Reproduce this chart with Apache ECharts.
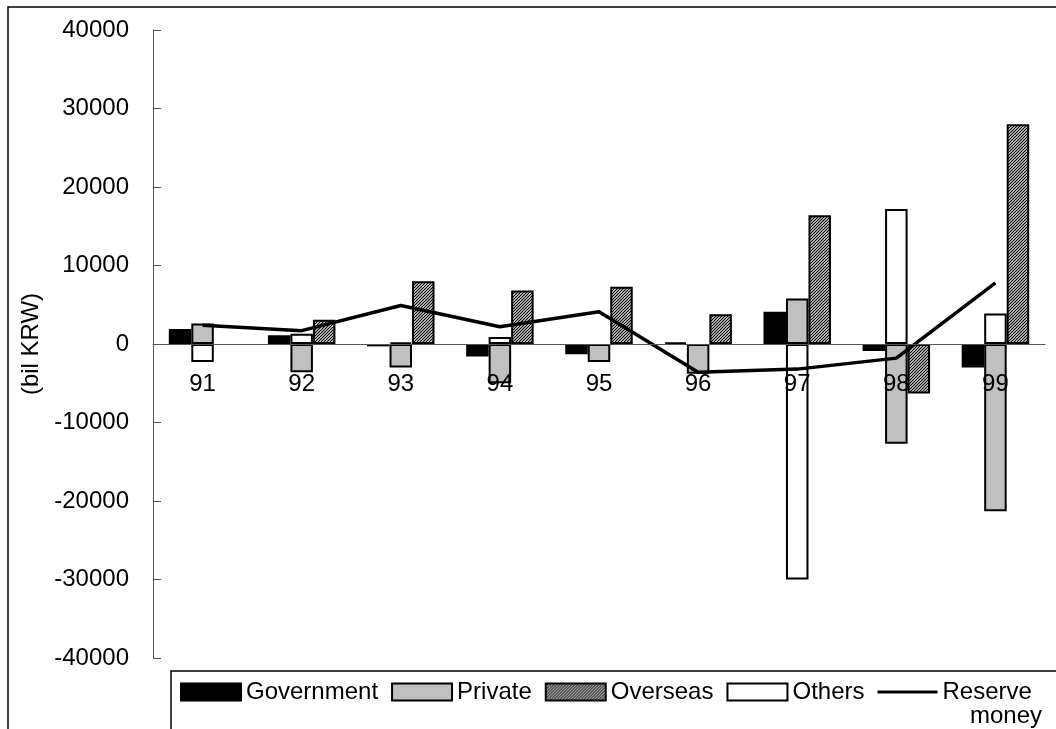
<!DOCTYPE html>
<html>
<head>
<meta charset="utf-8">
<script src="https://cdn.jsdelivr.net/npm/echarts@6/dist/echarts.min.js"></script>
<style>
html,body{margin:0;padding:0;background:#fff;}
#chart{width:1056px;height:729px;}
</style>
</head>
<body>
<div id="chart"></div>
<script>
const years = ['91','92','93','94','95','96','97','98','99'];
const government = [1900, 1100, -300, -1600, -1300, 200, 4100, -900, -3000];
const privateSec = [2600, -3600, -3000, -5000, -2300, -3800, 5800, -12700, -21300];
const overseas = [null, 3100, 8000, 6800, 7300, 3800, 16400, -6300, 28000];
const others = [-2300, 1300, 200, 900, null, null, -30000, 17200, 3900];
const reserveMoney = [2400, 1700, 4900, 2200, 4100, -3600, -3200, -1800, 7800];
const yTicks = {min: -40000, max: 40000, interval: 10000};

const FONT = "'Liberation Sans', Arial, sans-serif";

// hatch pattern for Overseas
const pc = document.createElement('canvas');
pc.width = 3; pc.height = 3;
const pctx = pc.getContext('2d');
pctx.fillStyle = '#a8a8a8';
pctx.fillRect(0, 0, 3, 3);
pctx.fillStyle = '#000000';
pctx.fillRect(0, 2, 1, 1);
pctx.fillRect(1, 1, 1, 1);
pctx.fillRect(2, 0, 1, 1);
const hatch = {image: pc, repeat: 'repeat'};

const chart = echarts.init(document.getElementById('chart'), null, {renderer: 'canvas'});
const barBase = {
  type: 'bar',
  barWidth: 22.5,
  barGap: '0%'
};
chart.setOption({
  animation: false,
  backgroundColor: '#fff',
  textStyle: {fontFamily: FONT},
  grid: {left: 153, right: 11, top: 30, bottom: 71, containLabel: false},
  legend: {
    left: 180, top: 680, itemWidth: 60, itemHeight: 17, itemGap: 13,
    padding: 0,
    textStyle: {fontFamily: FONT, fontSize: 24, color: '#000'},
    formatter: function (n) { return n === 'Reserve money' ? 'Reserve' : n; },
    data: [
      {name: 'Government', icon: 'rect'},
      {name: 'Private', icon: 'rect'},
      {name: 'Overseas', icon: 'rect'},
      {name: 'Others', icon: 'rect'},
      {name: 'Reserve money', icon: 'path://M0,0H60V3H0Z'}
    ]
  },
  graphic: [
    {type: 'rect', shape: {x: 8, y: 7, width: 1200, height: 900},
     style: {fill: 'none', stroke: '#000', lineWidth: 1.5}, silent: true},
    {type: 'rect', shape: {x: 171, y: 671, width: 1000, height: 200},
     style: {fill: 'none', stroke: '#000', lineWidth: 1.5}, silent: true},
    {type: 'text', left: 970, top: 704,
     style: {text: 'money', fontFamily: FONT, fontSize: 24, fill: '#000'}}
  ],
  xAxis: {
    type: 'category',
    data: years,
    z: 10,
    position: 'bottom',
    offset: -314,
    axisLine: {onZero: false, lineStyle: {color: '#555', width: 1}},
    axisTick: {inside: true, length: 7, lineStyle: {color: '#555'}},
    axisLabel: {fontFamily: FONT, fontSize: 24, color: '#000', margin: 28},
    splitLine: {show: false}
  },
  yAxis: {
    type: 'value',
    min: yTicks.min, max: yTicks.max, interval: yTicks.interval,
    name: '(bil KRW)',
    nameLocation: 'middle',
    nameGap: 104,
    nameTextStyle: {fontFamily: FONT, fontSize: 24, color: '#000'},
    axisLine: {show: true, lineStyle: {color: '#555', width: 1}},
    axisTick: {show: true, inside: true, length: 8, lineStyle: {color: '#555'}},
    axisLabel: {fontFamily: FONT, fontSize: 24, color: '#000', margin: 24,
      formatter: function (v) { return String(v); }},
    splitLine: {show: false}
  },
  series: [
    Object.assign({}, barBase, {name: 'Government', data: government,
      itemStyle: {color: '#000', borderColor: '#000', borderWidth: 2}}),
    Object.assign({}, barBase, {name: 'Private', data: privateSec, stack: 'po',
      itemStyle: {color: '#c0c0c0', borderColor: '#000', borderWidth: 2}}),
    Object.assign({}, barBase, {name: 'Overseas', data: overseas,
      itemStyle: {color: hatch, borderColor: '#000', borderWidth: 2}}),
    Object.assign({}, barBase, {name: 'Others', data: others, stack: 'po',
      itemStyle: {color: '#fff', borderColor: '#000', borderWidth: 2}}),
    {name: 'Reserve money', type: 'line', data: reserveMoney, symbol: 'none',
     z: 5, lineStyle: {color: '#000', width: 3.5}, itemStyle: {color: '#000'}}
  ]
});
</script>
</body>
</html>
